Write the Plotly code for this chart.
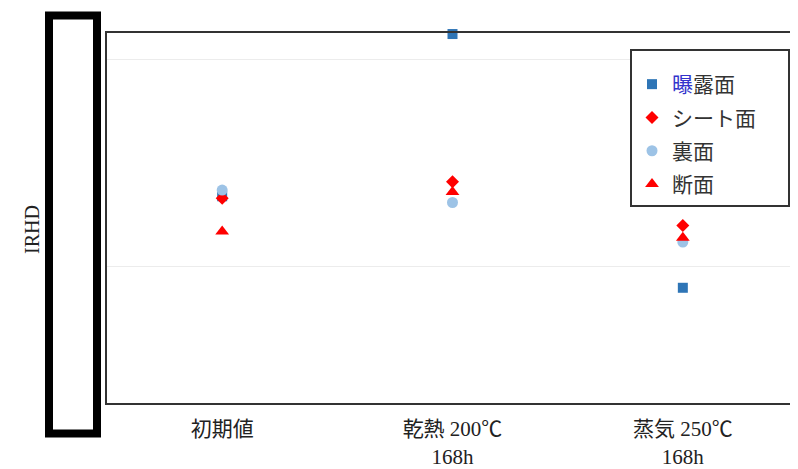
import plotly.graph_objects as go

categories = ["初期値", "乾熱 200℃<br>168h", "蒸気 250℃<br>168h"]
series_names = ["<span style='color:#3333cc'>曝</span>露面", "シート面&nbsp;&nbsp;&nbsp;&nbsp;&nbsp;", "裏面", "断面"]
exposed = [53.4, 61.2, 49.0]
sheet = [53.3, 54.1, 52.0]
back = [53.7, 53.1, 51.2]
section = [51.7, 53.6, 51.4]

FONT = "Liberation Serif, Noto Sans CJK JP, serif"

styles = [
    dict(symbol="square", color="#2e75b6", size=10),
    dict(symbol="diamond", color="#ff0000", size=10),
    dict(symbol="circle", color="#9dc3e6", size=11),
    dict(symbol="triangle-up", color="#ff0000", size=12),
]

fig = go.Figure()
for i, (name, vals) in enumerate(zip(series_names, [exposed, sheet, back, section])):
    st = styles[i]
    fig.add_trace(go.Scatter(
        x=categories, y=vals, mode="markers", name=name,
        legendgroup=f"g{i}",
        marker=dict(symbol=st["symbol"], color=st["color"], size=st["size"], line=dict(width=0)),
        cliponaxis=False,
    ))

OFF = 8  # page body margin
W, H = 798 - OFF, 469 - OFF
L, R, T, B = 107 - OFF, 0, 33 - OFF, 66
pw = W - L - R
ph = H - T - B

def px(x):
    return (x - OFF - L) / pw

def py(y):
    return (H - B - (y - OFF)) / ph

fig.update_layout(
    width=W, height=H,
    margin=dict(l=L, r=R, t=T, b=B),
    paper_bgcolor="white", plot_bgcolor="white",
    font=dict(family=FONT, color="#222222"),
    showlegend=True,
    legend=dict(
        x=px(630), y=py(49), xanchor="left", yanchor="top",
        bordercolor="#333333", borderwidth=2, bgcolor="white",
        font=dict(family=FONT, size=21, color="#333333"),
        tracegroupgap=3,
        traceorder="grouped",
        title=dict(text="&nbsp;", font=dict(size=10)),
    ),
    xaxis=dict(
        type="category", range=[-0.5, 2.5],
        showline=True, linecolor="#333333", linewidth=2, mirror=True,
        showgrid=False, ticks="", zeroline=False,
        tickfont=dict(family=FONT, size=21, color="#222222"),
        ticklabelstandoff=6,
    ),
    yaxis=dict(
        range=[43.46, 61.25], dtick=10, tick0=0,
        showline=True, linecolor="#333333", linewidth=2, mirror=False,
        showgrid=True, gridcolor="#ececec", gridwidth=1,
        showticklabels=False, ticks="", zeroline=False,
    ),
    shapes=[
        dict(type="rect", xref="paper", yref="paper",
             x0=px(49), x1=px(97), y0=py(433.5), y1=py(15.5),
             line=dict(color="black", width=8), fillcolor="rgba(0,0,0,0)"),
    ],
    annotations=[
        dict(text="IRHD", xref="paper", yref="paper", x=px(32), y=py(230),
             showarrow=False, textangle=-90, xanchor="center", yanchor="middle",
             font=dict(family=FONT, size=20, color="#222222")),
    ],
)

fig.write_html("out.html")
